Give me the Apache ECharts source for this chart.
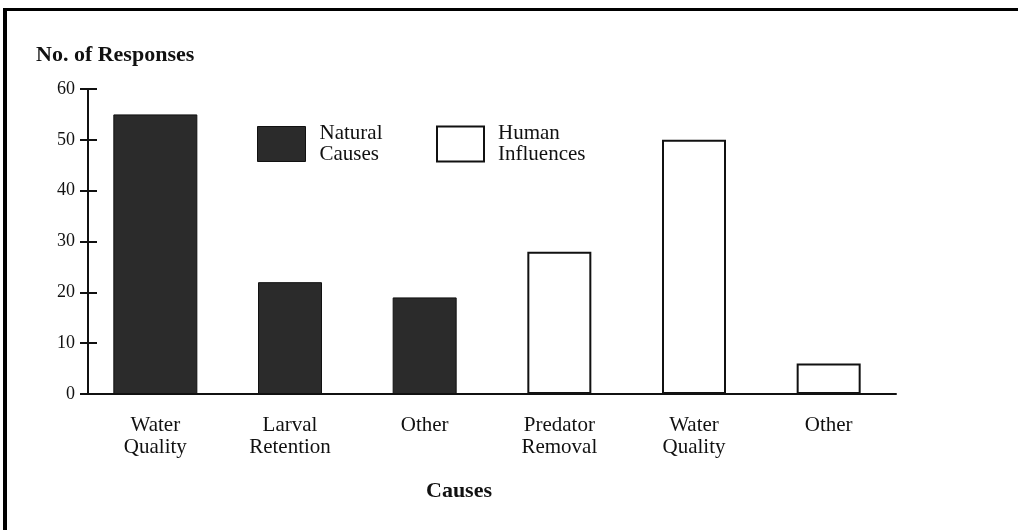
<!DOCTYPE html>
<html>
<head>
<meta charset="utf-8">
<script src="https://cdn.jsdelivr.net/npm/echarts@6/dist/echarts.min.js"></script>
<style>
	html, body { margin: 0; padding: 0; background: #fff; }
	#chart { width: 1018px; height: 530px; }
	/* scanned frame: only the top and left edges show */
	#frame { position: absolute; left: 3px; top: 8px; width: 1015px; height: 522px;
		border-top: 3px solid #000; border-left: 4px solid #000; pointer-events: none; }
</style>
</head>
<body>
<div id="chart"></div>
<div id="frame"></div>
<script>
// data
var categories = ['Water Quality', 'Larval Retention', 'Other', 'Predator Removal', 'Water Quality', 'Other'];
var naturalCauses = [55, 22, 19, null, null, null];
var humanInfluences = [null, null, null, 28, 50, 6];
var yTicks = [0, 10, 20, 30, 40, 50, 60];

var serif = '"Liberation Serif", "DejaVu Serif", serif';

function splitName(name){
	return name.replace(' ', '\n');
}

// the first bar is drawn wider in the original, so it gets its own series
var naturalWide = naturalCauses.map(function(v, i){ return i === 0 ? v : null; });
var naturalRest = naturalCauses.map(function(v, i){ return i === 0 ? null : v; });

var chart = echarts.init(document.getElementById('chart'));

var darkStyle = { color: '#2b2b2b', borderColor: '#111', borderWidth: 1 };

var option = {
	animation: false,
	backgroundColor: '#fff',
	title: [
		{
			text: 'No. of Responses',
			left: 36,
			top: 44,
			padding: 0,
			textStyle: { fontFamily: serif, fontSize: 22, fontWeight: 'bold', color: '#111' }
		},
		{
			text: 'Causes',
			left: 459,
			top: 480,
			padding: 0,
			textAlign: 'center',
			textStyle: { fontFamily: serif, fontSize: 22, fontWeight: 'bold', color: '#111' }
		}
	],
	legend: [
		{
			data: ['Natural Causes'],
			left: 257,
			top: 120,
			padding: 0,
			itemWidth: 48,
			itemHeight: 35,
			icon: 'rect',
			formatter: splitName,
			itemStyle: { borderColor: '#111', borderWidth: 1 },
			textStyle: { fontFamily: serif, fontSize: 21, color: '#111', lineHeight: 21, padding: [6, 0, 0, 9] }
		},
		{
			data: ['Human Influences'],
			left: 436,
			top: 120,
			padding: 0,
			itemWidth: 47,
			itemHeight: 35,
			icon: 'rect',
			formatter: splitName,
			itemStyle: { borderColor: '#111', borderWidth: 2 },
			textStyle: { fontFamily: serif, fontSize: 21, color: '#111', lineHeight: 21, padding: [6, 0, 0, 9] }
		}
	],
	grid: {
		left: 88,
		right: 122,
		top: 89,
		bottom: 136
	},
	xAxis: [
		{
			type: 'category',
			data: categories,
			axisLine: { lineStyle: { color: '#111', width: 2 } },
			axisTick: { show: false },
			axisLabel: {
				formatter: splitName,
				interval: 0,
				margin: 20,
				fontFamily: serif,
				fontSize: 21,
				lineHeight: 22,
				color: '#111'
			}
		},
		{
			// hidden twin axis, holds only the wide first bar
			type: 'category',
			data: categories,
			show: false
		}
	],
	yAxis: [
		{
			type: 'value',
			min: yTicks[0],
			max: yTicks[yTicks.length - 1],
			interval: 10,
			axisLine: { show: true, lineStyle: { color: '#111', width: 2 } },
			axisTick: { show: true, length: 8, lineStyle: { color: '#111', width: 2 } },
			axisLabel: { margin: 13, fontFamily: serif, fontSize: 18, color: '#111' },
			splitLine: { show: false }
		},
		{
			// second copy of the scale, only to draw the inner half of each tick
			type: 'value',
			position: 'left',
			min: yTicks[0],
			max: yTicks[yTicks.length - 1],
			interval: 10,
			axisLine: { show: false },
			axisTick: { show: true, inside: true, length: 9, lineStyle: { color: '#111', width: 2 } },
			axisLabel: { show: false },
			splitLine: { show: false }
		}
	],
	series: [
		{
			name: 'Natural Causes',
			type: 'bar',
			xAxisIndex: 1,
			data: naturalWide,
			barWidth: 84,
			itemStyle: darkStyle
		},
		{
			name: 'Natural Causes',
			type: 'bar',
			data: naturalRest,
			barWidth: 64,
			barGap: '-100%',
			itemStyle: darkStyle
		},
		{
			name: 'Human Influences',
			type: 'bar',
			data: humanInfluences,
			barWidth: 64,
			barGap: '-100%',
			itemStyle: { color: '#fff', borderColor: '#111', borderWidth: 2 }
		}
	]
};

chart.setOption(option);
</script>
</body>
</html>
